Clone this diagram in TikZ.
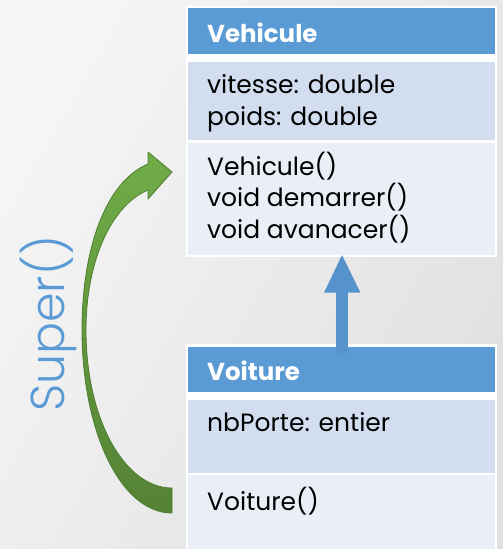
\documentclass[tikz,border=0pt]{standalone}
\usepackage{fontspec}
\setmainfont{Poppins}
\newfontfamily\lightfont{Poppins Light}
\definecolor{hdrblue}{HTML}{5B9BD5}
\definecolor{attrfill}{HTML}{D2DEEF}
\definecolor{methfill}{HTML}{EAEFF7}
\definecolor{bgA}{HTML}{F5F5F5}
\definecolor{bgB}{HTML}{E1E1E1}
\definecolor{grnLight}{HTML}{70AD47}
\definecolor{grnDark}{HTML}{548235}
\definecolor{grnEdge}{HTML}{4F7D31}
\definecolor{arrowblue}{HTML}{5693CD}
\begin{document}
\begin{tikzpicture}[x=1pt,y=-1pt,
  section/.style={minimum width=307pt, anchor=north west, inner sep=0pt, outer sep=0pt},
  header/.style={section, fill=hdrblue},
  attrs/.style={section, fill=attrfill},
  meths/.style={section, fill=methfill},
  member/.style={anchor=base west, inner sep=0pt, font=\fontsize{25}{30}\selectfont},
  classname/.style={member, text=white, font=\fontsize{24.5}{30}\selectfont\bfseries}]
\useasboundingbox (0,0) rectangle (503,549);
% background
\shade[top color=bgA, bottom color=bgB, shading angle=60] (0,0) rectangle (503,549);

% class Vehicule
\fill[white] (186,6) rectangle (497,257);
\node[header, minimum height=45.7pt] (vhead) at (188,8.3) {};
\node[attrs,  minimum height=78.3pt] (vattr) at (188,61.7) {};
\node[meths,  minimum height=112.3pt] (vmeth) at (188,142.7) {};
\node[classname] (vname) at (207,42.7) {Vehicule};
\node[member] (va1) at (207,93.3) {vitesse: double};
\node[member] (va2) at (207,125) {poids: double};
\node[member] (vm1) at (207,175) {Vehicule()};
\node[member] (vm2) at (207,206.7) {void demarrer()};
\node[member] (vm3) at (207,238.3) {void avanacer()};

% class Voiture
\fill[white] (186,344) rectangle (497,549);
\node[header, minimum height=45pt] (phead) at (188,346.7) {};
\node[attrs,  minimum height=72.7pt] (pattr) at (188,400) {};
\node[meths,  minimum height=74pt] (pmeth) at (188,475) {};
\node[classname] (pname) at (207,380) {Voiture};
\node[member] (pa1) at (207,431.7) {nbPorte: entier};
\node[member] (pm1) at (207,510) {Voiture()};

% inheritance arrow
\coordinate (tip) at (vmeth.south -| 342,0);
\draw[arrowblue, line width=12pt, line cap=round] (342,349) -- (342,292);
\fill[arrowblue] (tip) -- (360.5,292.7) -- (324,292.7) -- cycle;

% curved call arrow
\shade[top color=grnLight, bottom color=grnDark, draw=grnEdge, line width=0.8pt, line join=round]
  (172,513) .. controls (120,513) and (82,430) .. (82,330)
  .. controls (82,250) and (105,182) .. (148,164)
  -- (148,152) -- (172,172) -- (148,199) -- (148,190)
  .. controls (112,205) and (86,260) .. (86,330)
  .. controls (86,420) and (125,488) .. (172,488) -- cycle;

% label
\node[rotate=90, anchor=base, inner sep=0pt, text=hdrblue, font=\lightfont\fontsize{47.5}{54}\selectfont] (super) at (64,324) {Super()};
\end{tikzpicture}
\end{document}
